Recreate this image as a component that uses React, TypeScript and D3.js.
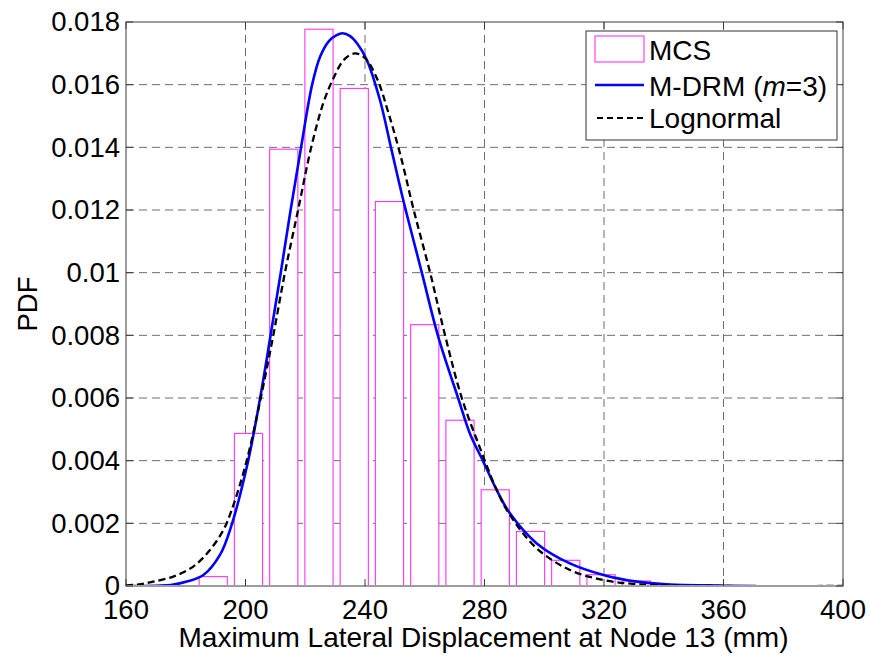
import React from 'react';
import * as d3 from 'd3';

// ---- data ----
const xTicks = [160, 200, 240, 280, 320, 360, 400];
const xTickLabels = ['160', '200', '240', '280', '320', '360', '400'];
const yTicks = [0, 0.002, 0.004, 0.006, 0.008, 0.01, 0.012, 0.014, 0.016, 0.018];
const yTickLabels = ['0', '0.002', '0.004', '0.006', '0.008', '0.01', '0.012', '0.014', '0.016', '0.018'];

// MCS histogram (bin centres and normalised density)
const binCenters = [189.2, 201.0, 212.8, 224.6, 236.4, 248.2, 260.0, 271.8, 283.6, 295.4, 307.2, 319.0, 330.8, 342.6, 354.4];
const mcsDensity = [0.0003, 0.00487, 0.01394, 0.01777, 0.01588, 0.01227, 0.00834, 0.00529, 0.00307, 0.00174, 0.00082, 0.00036, 0.00016, 0.00005, 0.00002];

// M-DRM (m=3) PDF
const mdrmX = [160, 170, 175, 180.3, 185.9, 191.5, 195.2, 200.9, 204.9, 208.4, 211.8, 215.1, 218.6, 222.3, 225, 228, 230.5, 232.5, 235, 237.5, 240.6, 245, 248.9, 252.8, 259, 264.5, 271.2, 275.1, 279.6, 284.1, 288.5, 297.5, 308.6, 319.8, 330.9, 342.1, 355, 371];
const mdrmY = [0, 0.00001, 0.00003, 0.00014, 0.00035, 0.001, 0.0019, 0.004, 0.006, 0.008, 0.01, 0.012, 0.014, 0.016, 0.0169, 0.0174, 0.01758, 0.01764, 0.01755, 0.0173, 0.01679, 0.01551, 0.01391, 0.01232, 0.01001, 0.00796, 0.00599, 0.00487, 0.00397, 0.00306, 0.00232, 0.00136, 0.00072, 0.00035, 0.00014, 0.00005, 0.00002, 0];

// Lognormal PDF
const lognX = [160, 165, 169.1, 175.8, 182.5, 188.1, 192.6, 195.4, 200.4, 205.1, 209.3, 213.2, 217.6, 222, 226, 229.4, 233, 236.6, 240, 244, 248, 252, 256.3, 261.8, 266.8, 272.4, 278.5, 284.1, 288.5, 297.5, 308.6, 319.8, 330.9, 345, 360, 400];
const lognY = [0.00002, 0.00006, 0.00014, 0.0003, 0.00062, 0.00115, 0.00179, 0.00243, 0.004, 0.006, 0.008, 0.01, 0.012, 0.014, 0.0154, 0.0162, 0.0168, 0.017, 0.01685, 0.0162, 0.01505, 0.0137, 0.012, 0.01, 0.008, 0.006, 0.0044, 0.00306, 0.00227, 0.0012, 0.00051, 0.00019, 0.00006, 0.00001, 0, 0];

const legendLabels = ['MCS', 'M-DRM (', 'Lognormal'];

const W = 870;
const H = 658;
const M = { left: 126, right: 843, top: 22, bottom: 586 };
const FONT = 'Arial, "Liberation Sans", Helvetica, sans-serif';
const FS = 27.5;

export default function App() {
  const x = d3.scaleLinear().domain([160, 400]).range([M.left, M.right]);
  const y = d3.scaleLinear().domain([0, 0.018]).range([M.bottom, M.top]);

  const binStep = binCenters[1] - binCenters[0];
  const barW = binStep * 0.8;

  const line = d3
    .line<[number, number]>()
    .x((d) => x(d[0]))
    .y((d) => y(Math.max(0, d[1])))
    .curve(d3.curveCatmullRom.alpha(0.5));

  const mdrmPath = line(mdrmX.map((v, i) => [v, mdrmY[i]] as [number, number])) || '';
  const lognPath = line(lognX.map((v, i) => [v, lognY[i]] as [number, number])) || '';

  const gridColor = '#6e6e6e';
  const axisColor = '#3c3c3c';

  return (
    <svg
      width={W}
      height={H}
      viewBox={`0 0 ${W} ${H}`}
      style={{ position: 'absolute', left: 0, top: 0, background: '#fff' }}
      fontFamily={FONT}
    >
      <rect x={0} y={0} width={W} height={H} fill="#fff" />
      <defs>
        <clipPath id="plotClip">
          <rect x={M.left} y={M.top - 2} width={M.right - M.left} height={M.bottom - M.top + 1} />
        </clipPath>
      </defs>

      {/* grid */}
      <g stroke={gridColor} strokeWidth={1} strokeDasharray="8 5">
        {xTicks.slice(1, -1).map((t) => (
          <line key={'gx' + t} x1={x(t)} x2={x(t)} y1={M.top} y2={M.bottom} />
        ))}
        {yTicks.slice(1, -1).map((t) => (
          <line key={'gy' + t} x1={M.left} x2={M.right} y1={y(t)} y2={y(t)} />
        ))}
      </g>

      {/* histogram */}
      <g clipPath="url(#plotClip)">
        {binCenters.map((c, i) => (
          <rect
            key={'b' + i}
            x={x(c - barW / 2)}
            y={y(mcsDensity[i])}
            width={x(c + barW / 2) - x(c - barW / 2)}
            height={y(0) - y(mcsDensity[i])}
            fill="#fff"
            stroke="#ff33ff"
            strokeWidth={1.1}
          />
        ))}
      </g>

      {/* curves */}
      <g clipPath="url(#plotClip)">
        <path d={mdrmPath} fill="none" stroke="#0000ff" strokeWidth={2.6} />
        <path d={lognPath} fill="none" stroke="#000" strokeWidth={2.3} strokeDasharray="7 4" />
      </g>

      {/* axes box */}
      <rect
        x={M.left}
        y={M.top}
        width={M.right - M.left}
        height={M.bottom - M.top}
        fill="none"
        stroke={axisColor}
        strokeWidth={1}
      />
      {/* tick marks */}
      <g stroke={axisColor} strokeWidth={1}>
        {xTicks.map((t) => (
          <g key={'tx' + t}>
            <line x1={x(t)} x2={x(t)} y1={M.bottom} y2={M.bottom - 7} />
            <line x1={x(t)} x2={x(t)} y1={M.top} y2={M.top + 7} />
          </g>
        ))}
        {yTicks.map((t) => (
          <g key={'ty' + t}>
            <line x1={M.left} x2={M.left + 7} y1={y(t)} y2={y(t)} />
            <line x1={M.right} x2={M.right - 7} y1={y(t)} y2={y(t)} />
          </g>
        ))}
      </g>

      {/* tick labels */}
      <g fontSize={FS} fill="#000">
        {xTicks.map((t, i) => (
          <text key={'lx' + t} x={x(t)} y={619} textAnchor="middle">
            {xTickLabels[i]}
          </text>
        ))}
        {yTicks.map((t, i) => (
          <text key={'ly' + t} x={M.left - 6} y={y(t)} dy="0.34em" textAnchor="end">
            {yTickLabels[i]}
          </text>
        ))}
      </g>

      {/* axis titles */}
      <text x={(M.left + M.right) / 2 - 1} y={647} textAnchor="middle" fontSize={28} fill="#000">
        Maximum Lateral Displacement at Node 13 (mm)
      </text>
      <text
        transform={`translate(37, ${(M.top + M.bottom) / 2}) rotate(-90)`}
        textAnchor="middle"
        fontSize={FS}
        fill="#000"
      >
        PDF
      </text>

      {/* legend */}
      <g>
        <rect x={586} y={31} width={251} height={109} fill="#fff" stroke="#333" strokeWidth={1} />
        <rect x={595} y={36} width={49} height={26} fill="#fff" stroke="#ff33ff" strokeWidth={1.1} />
        <line x1={595} x2={644} y1={85} y2={85} stroke="#0000ff" strokeWidth={2.6} />
        <line x1={597} x2={644} y1={118} y2={118} stroke="#000" strokeWidth={2} strokeDasharray="6 4" />
        <g fontSize={28} fill="#000">
          <text x={649} y={60}>{legendLabels[0]}</text>
          <text x={649} y={96}>
            {legendLabels[1]}
            <tspan fontStyle="italic">m</tspan>=3)
          </text>
          <text x={649} y={128}>{legendLabels[2]}</text>
        </g>
      </g>
    </svg>
  );
}
